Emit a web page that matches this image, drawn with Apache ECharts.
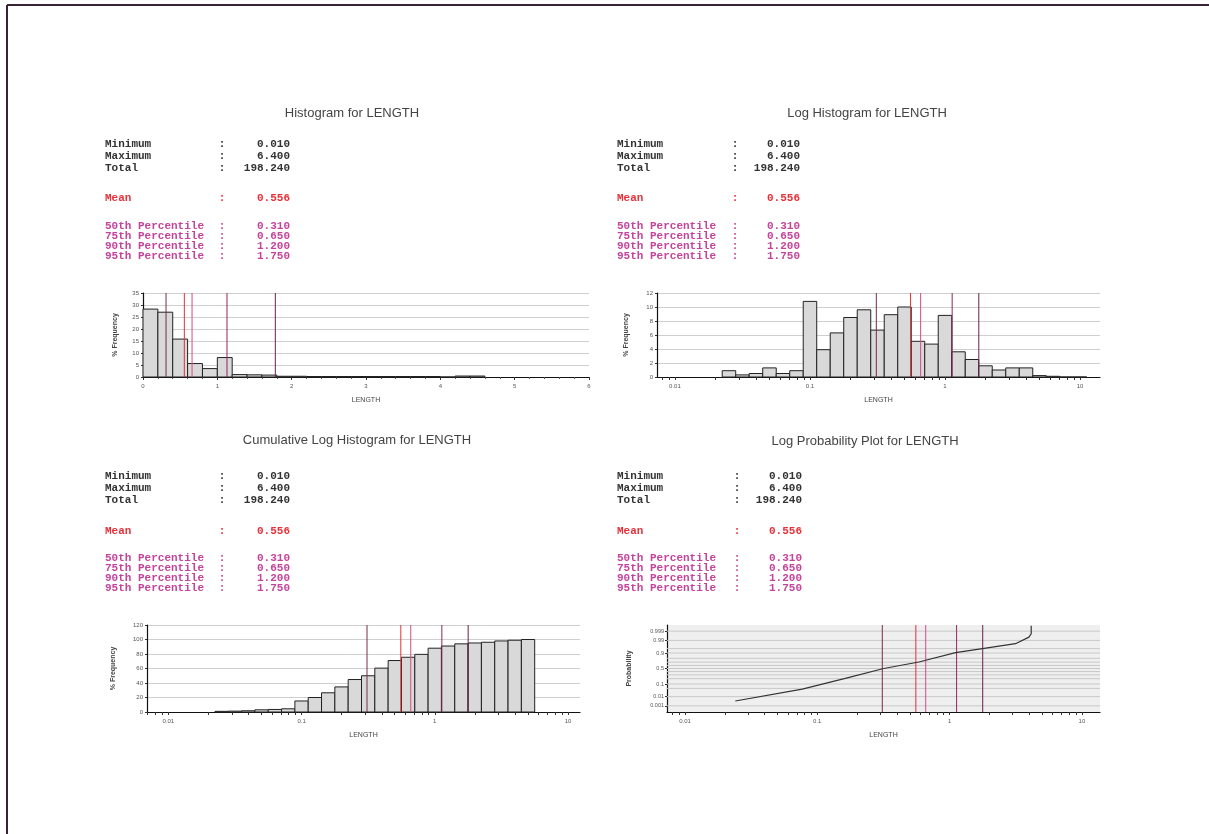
<!DOCTYPE html>
<html><head><meta charset="utf-8">
<script src="https://cdn.jsdelivr.net/npm/echarts@6/dist/echarts.min.js"></script>
<style>html,body{margin:0;padding:0;background:#fff}#c{width:1209px;height:834px}</style>
</head><body><div id="c"></div>
<script>
// ---------------- data ----------------
const panelTitles = ['Histogram for LENGTH', 'Log Histogram for LENGTH', 'Cumulative Log Histogram for LENGTH', 'Log Probability Plot for LENGTH'];
const statLabels = ['Minimum', 'Maximum', 'Total', 'Mean', '50th Percentile', '75th Percentile', '90th Percentile', '95th Percentile'];
const statValues = ['0.010', '6.400', '198.240', '0.556', '0.310', '0.650', '1.200', '1.750'];

// linear histogram (bin lower edge, bin width 0.2)
const histBinStart = [0, 0.2, 0.4, 0.6, 0.8, 1.0, 1.2, 1.4, 1.6, 1.8, 2.0, 2.2, 2.4, 2.6, 2.8, 3.0, 3.2, 3.4, 3.6, 3.8, 4.0, 4.2, 4.4];
const histPct = [28.3, 27.0, 15.8, 5.6, 3.5, 8.1, 1.0, 0.9, 0.8, 0.3, 0.3, 0.2, 0.2, 0.2, 0.2, 0.2, 0.2, 0.2, 0.2, 0.2, 0, 0.4, 0.4];

// log histogram (bin centre as log10 LENGTH, bin width 0.1 decade)
const logBinCentre = [-1.6, -1.5, -1.4, -1.3, -1.2, -1.1, -1.0, -0.9, -0.8, -0.7, -0.6, -0.5, -0.4, -0.3, -0.2, -0.1, 0.0, 0.1, 0.2, 0.3, 0.4, 0.5, 0.6, 0.7, 0.8, 0.9, 1.0];
const logPct = [0.9, 0.3, 0.5, 1.3, 0.5, 0.9, 10.8, 3.9, 6.3, 8.5, 9.6, 6.7, 8.9, 10.0, 5.1, 4.7, 8.8, 3.6, 2.5, 1.6, 1.0, 1.3, 1.3, 0.2, 0.1, 0, 0];

// cumulative log histogram
const cumBinCentre = [-1.6, -1.5, -1.4, -1.3, -1.2, -1.1, -1.0, -0.9, -0.8, -0.7, -0.6, -0.5, -0.4, -0.3, -0.2, -0.1, 0.0, 0.1, 0.2, 0.3, 0.4, 0.5, 0.6, 0.7];
const cumPct = [0.9, 1.2, 1.7, 3.0, 3.5, 4.4, 15.2, 20.0, 26.5, 34.6, 44.8, 50.0, 60.5, 71.0, 75.5, 79.5, 88.0, 91.0, 94.0, 95.2, 96.2, 98.0, 99.0, 100];

// log probability curve (LENGTH, cumulative probability)
const probLength = [0.024, 0.077, 0.16, 0.318, 0.586, 1.11, 1.77, 3.15, 3.98, 4.14, 4.14];
const probCum = [0.0036, 0.044, 0.20, 0.50, 0.705, 0.905, 0.95, 0.98, 0.9953, 0.998, 0.9998];
const probGridLevels = [0.001, 0.01, 0.05, 0.1, 0.2, 0.3, 0.4, 0.5, 0.6, 0.7, 0.8, 0.9, 0.95, 0.99, 0.999];
const probLabelLevels = [0.001, 0.01, 0.1, 0.5, 0.9, 0.99, 0.999];

// vertical marker lines (LENGTH)
const markerNames = ['50th', 'Mean', '75th', '90th', '95th'];
const markerLength = [0.31, 0.556, 0.66, 1.13, 1.78];
const markerColor = ['#7a2a4a', '#e0303a', '#d84a8a', '#8a2a5a', '#6a2048'];

const linTicks = ['0', '1', '2', '3', '4', '5', '6'];
const logTickLabels = ['0.01', '0.1', '1', '10'];

// ---------------- helpers ----------------
function normInv(p) {
  const a = [-3.969683028665376e+01, 2.209460984245205e+02, -2.759285104469687e+02, 1.383577518672690e+02, -3.066479806614716e+01, 2.506628277459239e+00];
  const b = [-5.447609879822406e+01, 1.615858368580409e+02, -1.556989798598866e+02, 6.680131188771972e+01, -1.328068155288572e+01];
  const c = [-7.784894002430293e-03, -3.223964580411365e-01, -2.400758277161838e+00, -2.549732539343734e+00, 4.374664141464968e+00, 2.938163982698783e+00];
  const d = [7.784695709041462e-03, 3.224671290700398e-01, 2.445134137142996e+00, 3.754408661907416e+00];
  const pl = 0.02425, ph = 1 - pl;
  let q, r;
  if (p < pl) { q = Math.sqrt(-2 * Math.log(p)); return (((((c[0]*q+c[1])*q+c[2])*q+c[3])*q+c[4])*q+c[5]) / ((((d[0]*q+d[1])*q+d[2])*q+d[3])*q+1); }
  if (p <= ph) { q = p - 0.5; r = q*q; return (((((a[0]*r+a[1])*r+a[2])*r+a[3])*r+a[4])*r+a[5])*q / (((((b[0]*r+b[1])*r+b[2])*r+b[3])*r+b[4])*r+1); }
  q = Math.sqrt(-2 * Math.log(1 - p)); return -(((((c[0]*q+c[1])*q+c[2])*q+c[3])*q+c[4])*q+c[5]) / ((((d[0]*q+d[1])*q+d[2])*q+d[3])*q+1);
}
const L = Math.log10;
function logMinorTicks(lo, hi) {
  const out = [];
  for (let n = -3; n <= 2; n++) for (let k = 1; k <= 9; k++) { const v = n + L(k); if (v >= lo && v <= hi) out.push(v); }
  return out;
}

// ---------------- layout ----------------
const grids = [
  { left: 143, top: 293, width: 446, height: 84 },
  { left: 657, top: 293, width: 443, height: 84 },
  { left: 147, top: 625, width: 433, height: 87 },
  { left: 667, top: 625, width: 433, height: 87 }
];
const xr = [[0, 6], [-2.133, 1.148], [-2.16, 1.09], [-2.136, 1.137]];
const Z = 3.6;

const tickFont = { fontSize: 6, color: '#555', fontFamily: 'Liberation Sans' };
const nameFont = { fontSize: 7, color: '#444', fontFamily: 'Liberation Sans' };
const axisLineBlack = { show: true, onZero: false, lineStyle: { color: '#111', width: 1.2 } };

function logXAxis(i) {
  return {
    type: 'value', gridIndex: i, min: xr[i][0], max: xr[i][1],
    axisLine: axisLineBlack,
    axisTick: { show: true, length: 3, lineStyle: { color: '#333' }, customValues: logMinorTicks(xr[i][0], xr[i][1]) },
    axisLabel: Object.assign({ margin: 6, customValues: [-2, -1, 0, 1],
      formatter: v => logTickLabels[Math.round(v) + 2] }, tickFont),
    splitLine: { show: false },
    name: 'LENGTH', nameLocation: 'middle', nameGap: 20, nameTextStyle: nameFont
  };
}

const xAxis = [
  {
    type: 'value', gridIndex: 0, min: 0, max: 6, interval: 1,
    axisLine: axisLineBlack,
    axisTick: { show: true, length: 3, lineStyle: { color: '#333' } },
    minorTick: { show: true, splitNumber: 5, length: 2, lineStyle: { color: '#555' } },
    axisLabel: Object.assign({ margin: 6, formatter: v => linTicks[Math.round(v)] }, tickFont),
    splitLine: { show: false },
    name: 'LENGTH', nameLocation: 'middle', nameGap: 20, nameTextStyle: nameFont
  },
  logXAxis(1), logXAxis(2), logXAxis(3)
];

function yAx(i, max, interval, gap, name) {
  return {
    type: 'value', gridIndex: i, min: 0, max: max, interval: interval,
    axisLine: axisLineBlack,
    axisTick: { show: true, length: 2, lineStyle: { color: '#333' } },
    axisLabel: Object.assign({ margin: 4 }, tickFont),
    splitLine: { show: true, lineStyle: { color: '#cfcfcf', width: 1 } },
    name: name, nameLocation: 'middle', nameGap: gap, nameRotate: 90,
    nameTextStyle: Object.assign({}, nameFont, { fontWeight: 'bold' })
  };
}
const probLabelZ = probLabelLevels.map(p => normInv(p));
const yAxis = [
  yAx(0, 35, 5, 24, '% Frequency'),
  yAx(1, 12, 2, 27, '% Frequency'),
  yAx(2, 120, 20, 30, '% Frequency'),
  {
    type: 'value', gridIndex: 3, min: -Z, max: Z,
    axisLine: axisLineBlack,
    axisTick: { show: true, length: 2, customValues: probLabelZ, lineStyle: { color: '#333' } },
    axisLabel: Object.assign({ margin: 3, customValues: probLabelZ,
      formatter: v => { let bi = 0; probLabelZ.forEach((z, i) => { if (Math.abs(z - v) < Math.abs(probLabelZ[bi] - v)) bi = i; }); return String(probLabelLevels[bi]); },
      color: '#555' }, { fontSize: 5.5, fontFamily: 'Liberation Sans' }),
    splitLine: { show: false },
    name: 'Probability', nameLocation: 'middle', nameGap: 34, nameRotate: 90,
    nameTextStyle: Object.assign({}, nameFont, { fontWeight: 'bold' })
  }
];

function barRender(params, api) {
  const x0 = api.value(0), x1 = api.value(1), y = api.value(2);
  const p0 = api.coord([x0, y]);
  const p1 = api.coord([x1, 0]);
  return { type: 'rect', shape: { x: p0[0], y: p0[1], width: p1[0] - p0[0], height: p1[1] - p0[1] },
    style: { fill: '#d9d9d9', stroke: '#222', lineWidth: 1 } };
}

const series = [];
series.push({ type: 'custom', xAxisIndex: 0, yAxisIndex: 0, renderItem: barRender, encode: { x: [0, 1], y: 2 },
  data: histBinStart.map((s, i) => [s, s + 0.2, histPct[i]]), z: 3, silent: true });
series.push({ type: 'custom', xAxisIndex: 1, yAxisIndex: 1, renderItem: barRender, encode: { x: [0, 1], y: 2 },
  data: logBinCentre.map((c, i) => [c - 0.05, c + 0.05, logPct[i]]), z: 3, silent: true });
series.push({ type: 'custom', xAxisIndex: 2, yAxisIndex: 2, renderItem: barRender, encode: { x: [0, 1], y: 2 },
  data: cumBinCentre.map((c, i) => [c - 0.05, c + 0.05, cumPct[i]]), z: 3, silent: true });

// probability grid lines
probGridLevels.forEach(p => {
  const z = normInv(p);
  series.push({ type: 'line', xAxisIndex: 3, yAxisIndex: 3, silent: true, symbol: 'none', z: 1,
    lineStyle: { color: '#c8c8c8', width: 1 }, data: [[xr[3][0], z], [xr[3][1], z]] });
});

// probability curve
series.push({ type: 'line', xAxisIndex: 3, yAxisIndex: 3, silent: true, symbol: 'none', z: 5,
  lineStyle: { color: '#333', width: 1.2 }, data: probLength.map((v, i) => [L(v), normInv(probCum[i])]) });

// vertical marker lines
const ymax = [35, 12, 120, Z], ymin = [0, 0, 0, -Z];
[0, 1, 2, 3].forEach(pi => {
  markerLength.forEach((m, k) => {
    const xv = pi === 0 ? m : L(m);
    series.push({ type: 'line', xAxisIndex: pi, yAxisIndex: pi, silent: true, symbol: 'none', z: 4,
      lineStyle: { color: markerColor[k], width: 1 }, data: [[xv, ymin[pi]], [xv, ymax[pi]]] });
  });
});

// ---------------- texts ----------------
const graphic = [];
graphic.push({ type: 'line', shape: { x1: 7, y1: 5, x2: 1209, y2: 5 }, style: { stroke: '#3a2232', lineWidth: 2 } });
graphic.push({ type: 'line', shape: { x1: 7, y1: 5, x2: 7, y2: 834 }, style: { stroke: '#3a2232', lineWidth: 2 } });

const titlePos = [[352, 113], [867, 113], [357, 440], [865, 441]];
titlePos.forEach((p, i) => graphic.push({ type: 'text', x: p[0], y: p[1],
  style: { text: panelTitles[i], fill: '#444', font: '13px "Liberation Sans"', textAlign: 'center', textVerticalAlign: 'middle' } }));

const statCols = [[105, 222, 290], [617, 735, 800], [105, 222, 290], [617, 737, 802]];
const rowsTop = [144, 156, 168, 198, 226, 236.5, 246.5, 256.5];
const rowsBot = [476, 488, 500, 531, 558, 568.5, 578.5, 588.5];
statCols.forEach((c, pi) => {
  const rows = pi < 2 ? rowsTop : rowsBot;
  statLabels.forEach((lab, r) => {
    const col = r < 3 ? '#333' : (r === 3 ? '#e8303a' : '#c4449a');
    const font = 'bold 11px "Liberation Mono"';
    graphic.push({ type: 'text', x: c[0], y: rows[r], style: { text: lab, fill: col, font, textAlign: 'left', textVerticalAlign: 'middle' } });
    graphic.push({ type: 'text', x: c[1], y: rows[r], style: { text: ':', fill: col, font, textAlign: 'center', textVerticalAlign: 'middle' } });
    graphic.push({ type: 'text', x: c[2], y: rows[r], style: { text: statValues[r], fill: col, font, textAlign: 'right', textVerticalAlign: 'middle' } });
  });
});

const chart = echarts.init(document.getElementById('c'), null, { renderer: 'canvas' });
chart.setOption({
  backgroundColor: '#fff',
  animation: false,
  grid: grids.map((g, i) => Object.assign({ show: i === 3, backgroundColor: '#efefef', borderWidth: 0 }, g)),
  xAxis, yAxis, series, graphic
});
</script></body></html>
